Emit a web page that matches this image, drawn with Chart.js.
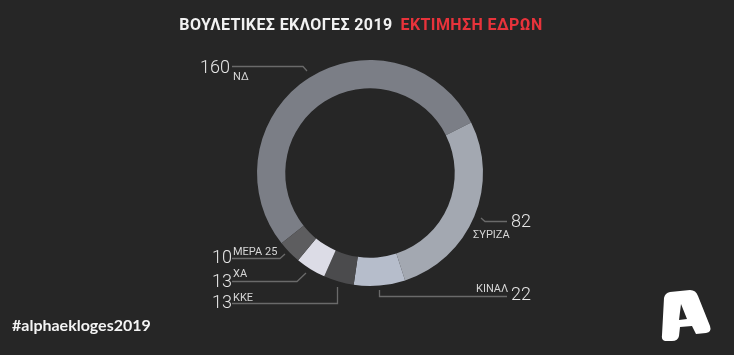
<!DOCTYPE html>
<html>
<head>
<meta charset="utf-8">
<script src="https://cdn.jsdelivr.net/npm/chart.js@4"></script>
<style>
  html, body { margin: 0; padding: 0; background: #262626; }
  #wrap { position: relative; width: 734px; height: 355px; overflow: hidden; }
  #title {
    position: absolute; left: 0; top: 15px; width: 722px; text-align: center;
    font-family: 'Roboto', sans-serif; font-weight: 700; font-size: 16px;
    color: #f2f2f2; letter-spacing: 0.4px; white-space: nowrap;
  }
  #title span { color: #e8333b; margin-left: 8px; }
  #tag {
    position: absolute; left: 12px; top: 315px;
    font-family: 'Lato', sans-serif; font-weight: 700; font-size: 16px; color: #f4f4f4;
  }
  #logo { position: absolute; left: 654px; top: 284px; }
  canvas { position: absolute; left: 0; top: 0; }
</style>
</head>
<body>
<div id="wrap">
  <canvas id="chartEdres" width="734" height="355"></canvas>
  <div id="title">ΒΟΥΛΕΤΙΚΕΣ ΕΚΛΟΓΕΣ 2019<span>ΕΚΤΙΜΗΣΗ ΕΔΡΩΝ</span></div>
  <div id="tag">#alphaekloges2019</div>
  <svg id="logo" width="60" height="60" viewBox="0 0 60 60">
    <path d="M16 8 L36 6 Q42 6 44 12 L56 42 Q58 48 52 49 L42 50 L38 42 L26 43 L25 52 Q24 57 18 57 L11 57 Q7 56 8 51 L10 14 Q11 9 16 8 Z M27 20 L25 36 L33 35 Z" fill="#ffffff" fill-rule="evenodd"/>
  </svg>
</div>
<script>
// Εκτίμηση εδρών 2019
const PARTIES = ['ΝΔ', 'ΣΥΡΙΖΑ', 'ΚΙΝΑΛ', 'ΚΚΕ', 'ΧΑ', 'ΜΕΡΑ 25'];
const SEATS = [160, 82, 22, 13, 13, 10];
const COLORS = ['#7b7e86', '#a3a8b1', '#b6bdcb', '#4b4b4d', '#dcdce6', '#5d5d5f'];

// label layout: number baseline pos, party label baseline pos, leader line points
const LABEL_LAYOUT = [
  { num: [200, 73], name: [233, 80], line: [[232, 66.5], [303, 66.5], [307, 71]] },
  { num: [511, 227], name: [473, 238], line: [[481, 218], [485, 221.5], [507, 221.5]] },
  { num: [511, 300], name: [476, 292], line: [[379.5, 290], [379.5, 296.5], [507, 296.5]] },
  { num: [212, 308], name: [233, 301], line: [[232, 303.5], [337.5, 303.5], [337.5, 287]] },
  { num: [212, 287], name: [233, 277], line: [[232, 281.5], [297, 281.5], [306, 273]] },
  { num: [212, 263], name: [233, 255], line: [[232, 258.5], [280, 258.5], [285, 254]] }
];

const labelPlugin = {
  id: 'seatLabels',
  afterDraw(chart) {
    const c = chart.ctx;
    const data = chart.data.datasets[0].data;
    c.save();
    LABEL_LAYOUT.forEach((lay, i) => {
      c.strokeStyle = '#6a6a6a';
      c.lineWidth = 1.3;
      c.beginPath();
      lay.line.forEach((p, j) => j ? c.lineTo(p[0], p[1]) : c.moveTo(p[0], p[1]));
      c.stroke();

      c.textAlign = 'left';
      c.textBaseline = 'alphabetic';
      c.fillStyle = '#e6e6e6';
      c.font = "300 18px 'Roboto', sans-serif";
      c.fillText(String(data[i]), lay.num[0], lay.num[1]);

      c.fillStyle = '#d6d6d6';
      c.font = "400 11px 'Roboto', sans-serif";
      c.fillText(chart.data.labels[i], lay.name[0], lay.name[1]);
    });
    c.restore();
  }
};

function createEdresChart() {
  const ctx = document.getElementById('chartEdres');

  new Chart(ctx, {
    type: 'doughnut',
    data: {
      labels: PARTIES,
      datasets: [{
        data: SEATS,
        backgroundColor: COLORS,
        borderWidth: 0
      }]
    },
    options: {
      responsive: false,
      animation: false,
      cutout: '75%',
      rotation: 231.5,
      layout: { padding: { left: 257, right: 251, top: 60, bottom: 69 } },
      plugins: {
        legend: { display: false },
        tooltip: { enabled: false }
      }
    },
    plugins: [labelPlugin]
  });
}

createEdresChart();
</script>
</body>
</html>
